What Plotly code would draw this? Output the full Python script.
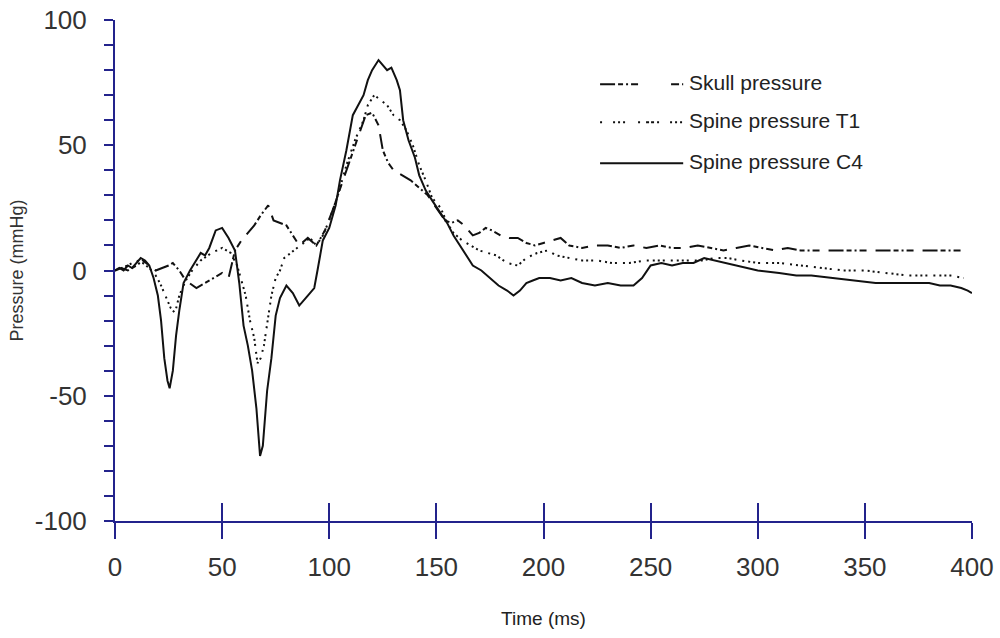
import plotly.graph_objects as go

# ---- data ----
c4_t = [0, 2, 4, 6, 8, 10, 12, 14, 16, 18, 20, 21.5, 23, 24.5, 25.5, 27, 28.5, 30, 32, 35, 38, 40, 42, 44, 47, 50,
        53, 56, 58, 60, 62, 64, 66, 67.7, 69, 71, 73, 75, 77, 80, 83, 86, 90, 93, 94.5, 97, 100, 103, 105, 108, 111,
        114, 116, 118, 120, 123, 125, 127, 129, 131.5, 133, 134.5, 137, 140, 142, 145, 148, 151, 155, 158, 161, 164,
        167, 171, 175, 179, 183, 186, 189, 192, 195, 198, 203, 208, 213, 218, 224, 230, 236, 242, 246, 250, 255, 260,
        265, 270, 275, 280, 290, 300, 310, 318, 325, 335, 345, 355, 365, 375, 380, 385, 390, 395, 398, 400]
c4_p = [0, 1, 0, 2, 1, 3, 5, 4, 2, -3, -10, -20, -35, -44, -47, -40, -26, -16, -5, 0, 4, 7, 6, 9, 16, 17,
        13, 8, -5, -22, -30, -40, -55, -74, -70, -48, -35, -18, -11, -6, -9, -14, -10, -7, 0, 12, 17, 26, 36, 48, 62,
        67, 70, 76, 80, 84, 82, 80, 81, 76, 72, 60, 52, 45, 38, 32, 28, 24, 19, 14, 10, 6,
        2, 0, -3, -6, -8, -10, -8, -5, -4, -3, -3, -4, -3, -5, -6, -5, -6, -6, -3, 2, 3, 2,
        3, 3, 5, 4, 2, 0, -1, -2, -2, -3, -4, -5, -5, -5, -5, -6, -6, -7, -8, -9, -11]

t1_t = [0, 3, 6, 10, 13, 16, 19, 21, 23, 26, 28, 30, 33, 36, 40, 45, 50, 54, 57, 59, 61, 63, 65, 66.5, 68, 69.5,
        71, 73, 75, 77, 79, 82, 85, 88, 91, 94, 97, 100, 104, 108, 112, 116, 118, 121, 124, 127, 130, 133, 136, 139,
        142, 145, 148, 152, 155, 158, 162, 166, 170, 174, 178, 183, 188, 192, 197, 202, 206, 212, 218, 225, 232,
        240, 248, 255, 262, 268, 274, 280, 286, 292, 300, 310, 320, 330, 340, 350, 360, 370, 380, 390, 396]
t1_p = [0, 1, 2, 4, 3, 1, -2, -5, -9, -15, -17, -10, -4, 0, 4, 7, 9, 7, 2, -4, -10, -20, -27, -37, -35, -30,
        -21, -10, -3, 0, 5, 7, 9, 11, 13, 10, 14, 20, 30, 42, 52, 60, 66, 70, 68, 66, 62, 60, 56, 50,
        42, 36, 29, 25, 19, 15, 12, 10, 8, 7, 6, 3, 2, 5, 7, 8, 6, 5, 4, 4, 3,
        3, 4, 4, 4, 4, 4, 5, 5, 4, 3, 3, 2, 1, 0, 0, -1, -2, -2, -2, -3]

sk_t = [0, 3, 6, 10, 13, 16, 19, 22, 25, 27, 30, 33, 36, 38, 42, 46, 50, 53, 56, 59, 62, 65, 68, 71.5, 74, 77,
        80, 83, 86, 90, 94, 98, 102, 106, 110, 114, 117, 120, 123, 125, 127.5, 130, 134, 138, 142, 146, 150, 154,
        157, 160, 163, 167, 170, 173, 176, 180, 184, 188, 192, 196, 200, 204, 208, 212, 218, 224, 230, 236, 242,
        248, 254, 260, 266, 272, 278, 284, 290, 296, 302, 308, 314, 320, 330, 340, 350, 360, 370, 380, 390, 395]
sk_p = [0, 1, 0, 2, 4, 2, 0, 1, 2, 3, 0, -4, -6, -7, -5, -3, -1, -3, 8, 12, 15, 18, 22, 26, 20, 19,
        18, 14, 10, 13, 10, 16, 25, 35, 45, 55, 62, 63, 58, 48, 43, 40, 38, 36, 33, 30, 25, 20,
        19, 20, 18, 14, 15, 17, 16, 14, 13, 13, 11, 10, 11, 12, 13, 10, 9, 10, 10, 9, 10,
        9, 10, 9, 9, 10, 9, 8, 9, 10, 9, 8, 9, 8, 8, 8, 8, 8, 8, 8, 8, 8]

series_names = ["Skull pressure", "Spine pressure T1", "Spine pressure C4"]
x_ticks = [0, 50, 100, 150, 200, 250, 300, 350, 400]
y_ticks = [-100, -50, 0, 50, 100]
y_ticktext = ["-100", "-50", "0", "50", "100"]

FONT = "Liberation Sans, Arial, sans-serif"
AXIS = "#23238c"
INK = "#111111"
DASHES = ["15px,3px,5px,3px,2px,3px,7px,9px",
          "2px,4px,2px,3px,2px,3px,2px,6px",
          "solid"]

fig = go.Figure()
for name, xs, ys, dash in zip(series_names, [sk_t, t1_t, c4_t], [sk_p, t1_p, c4_p], DASHES):
    fig.add_trace(go.Scatter(x=xs, y=ys, mode="lines", name=name, showlegend=False,
                             line=dict(color=INK, width=2, dash=dash)))
# invisible trace on overlay axis giving the upward half of the crossing x ticks
fig.add_trace(go.Scatter(x=[0, 400], y=[-100, -100], mode="lines", xaxis="x2", yaxis="y",
                         line=dict(width=0), showlegend=False, hoverinfo="skip"))

# legend drawn as in the reference (long line samples left of the text)
LEG_X0, LEG_X1, LEG_TX = 0.566, 0.663, 0.667
LEG_Y = [0.872, 0.796, 0.714]
LEG_DASH = ["15px,3px,5px,3px,2px,3px,7px,33px,8px,3px",
            "2px,11px,2px,3px,2px,3px,2px,13px,2px,6px,3px,2px,3px,3px",
            "solid"]
for name, yy, dash in zip(series_names, LEG_Y, LEG_DASH):
    fig.add_shape(type="line", xref="paper", yref="paper", x0=LEG_X0, x1=LEG_X1, y0=yy, y1=yy,
                  line=dict(color=INK, width=2, dash=dash))
    fig.add_annotation(xref="paper", yref="paper", x=LEG_TX, y=yy + 0.004, text=name, showarrow=False,
                       xanchor="left", yanchor="middle", font=dict(size=21, color="#222222"))

fig.update_layout(
    width=1000, height=638,
    margin=dict(l=115, r=28, t=20, b=117),
    paper_bgcolor="white", plot_bgcolor="white",
    font=dict(family=FONT, color="#333333", size=26),
    showlegend=False,
    xaxis=dict(range=[0, 400], tickvals=x_ticks, ticks="outside", ticklen=16, tickwidth=2,
               tickcolor=AXIS, showline=True, linecolor=AXIS, linewidth=2, showgrid=False,
               zeroline=False, tickfont=dict(size=26, color="#333333"), ticklabelstandoff=6,
               automargin=False,
               title=dict(text="Time (ms)", font=dict(size=19, color="#222222"), standoff=30)),
    xaxis2=dict(range=[0, 400], overlaying="x", side="bottom", tickvals=x_ticks, ticks="inside",
                ticklen=18, tickwidth=2, tickcolor=AXIS, showticklabels=False, showgrid=False,
                zeroline=False, showline=False, automargin=False),
    yaxis=dict(range=[-100, 100], tickvals=y_ticks, ticktext=y_ticktext, ticks="outside", ticklen=9,
               tickwidth=2, tickcolor=AXIS, showline=True, linecolor=AXIS, linewidth=2, showgrid=False,
               zeroline=False, tickfont=dict(size=26, color="#333333"), ticklabelstandoff=12,
               automargin=False,
               minor=dict(dtick=10, ticks="outside", ticklen=9, tickwidth=1.5, tickcolor=AXIS),
               title=dict(text="Pressure (mmHg)", font=dict(size=18, color="#333333"), standoff=6)),
)

fig.write_html("out.html")
